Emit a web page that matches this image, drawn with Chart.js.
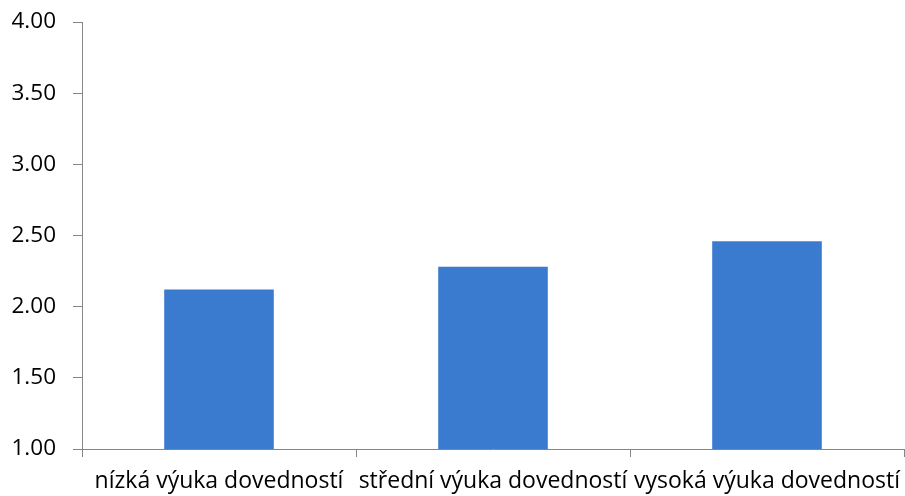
<!DOCTYPE html>
<html><head><meta charset="utf-8">
<script src="https://cdn.jsdelivr.net/npm/chart.js@4/dist/chart.umd.min.js"></script>
<style>html,body{margin:0;padding:0;background:#fff}#wrap{width:905px;height:496px}</style>
</head><body><div id="wrap"><canvas id="c" width="905" height="496"></canvas></div>
<script>
const categories = ["nízká výuka dovedností", "střední výuka dovedností", "vysoká výuka dovedností"];
const values = [2.12, 2.28, 2.46];
const yTicks = [1.00, 1.50, 2.00, 2.50, 3.00, 3.50, 4.00];
const FONT = "'Open Sans', sans-serif";
new Chart(document.getElementById('c'), {
  type: 'bar',
  data: { labels: categories, datasets: [{ data: values, backgroundColor: 'rgb(58,123,207)', borderWidth: 0, categoryPercentage: 1, barPercentage: 0.4 }] },
  options: {
    responsive: false, animation: false, devicePixelRatio: 1,
    layout: { padding: { top: 22, right: 1, left: 0, bottom: 0 } },
    plugins: { legend: { display: false }, tooltip: { enabled: false } },
    scales: {
      x: {
        offset: true,
        grid: { display: true, offset: true, drawOnChartArea: false, drawTicks: true, tickLength: 8, color: '#868686' },
        border: { color: '#868686', width: 1 },
        ticks: { autoSkip: false, maxRotation: 0, minRotation: 0, padding: 11, color: '#000', font: { family: FONT, size: 23 } },
        afterFit: s => { s.height = 47; s.paddingLeft = 0; s.paddingRight = 0; }
      },
      y: {
        min: 1, max: 4,
        afterBuildTicks: s => { s.ticks = yTicks.map(v => ({ value: v })); },
        grid: { display: true, drawOnChartArea: false, drawTicks: true, tickLength: 9, color: '#868686' },
        border: { color: '#868686', width: 1 },
        ticks: { padding: 17, color: '#000', font: { family: FONT, size: 22.5 }, callback: v => Number(v).toFixed(2) },
        afterFit: s => { s.width = 82; s.paddingTop = 0; s.paddingBottom = 0; }
      }
    }
  }
});
</script></body></html>
